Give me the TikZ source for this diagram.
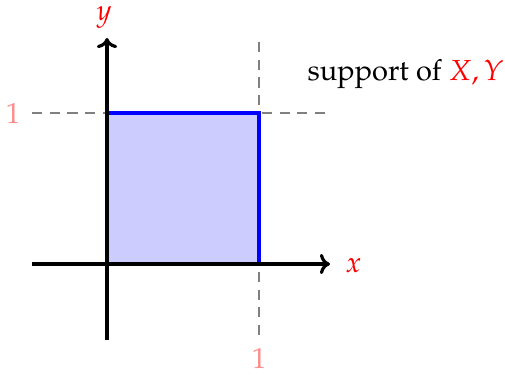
\documentclass[tikz,border=0pt]{standalone}
\usepackage[T1]{fontenc}
\usepackage{mathpazo}
\usetikzlibrary{arrows.meta}
\begin{document}
\begin{tikzpicture}[x=0.345pt,y=-0.345pt,
  axis/.style={line width=1.1pt,-{To[length=3.5pt,width=7pt]}},
  guide/.style={gray,line width=0.65pt,dash pattern=on 3.5pt off 2.6pt},
  lbl/.style={red},
  tick/.style={red!45},
  sq/.style={blue,line width=1.2pt,fill=blue!20}]
\useasboundingbox (0,0) rectangle (505,374);
\coordinate (O) at (107,264);
\coordinate (xs) at (32,264);
\coordinate (xe) at (330,264);
\coordinate (ys) at (107,340);
\coordinate (ye) at (107,38);
\coordinate (hl) at (32,113);
\coordinate (hr) at (330,113);
\coordinate (vt) at (259,42);
\coordinate (vb) at (259,340);
\draw[guide] (hl) -- (hr);
\draw[guide] (vt) -- (vb);
\draw[sq] (O) rectangle (259,113);
\draw[axis] (xs) -- (xe);
\draw[axis] (ys) -- (ye);
\node[lbl,anchor=west,inner sep=0pt] (xl) at (345,266) {$x$};
\node[lbl,anchor=south,inner sep=0pt] (yl) at (104,29) {$y$};
\node[tick,inner sep=0pt] (one1) at (13,113) {$1$};
\node[tick,inner sep=0pt] (one2) at (259,358) {$1$};
\node[anchor=west,inner sep=0pt] (sup) at (307,74) {support of \textcolor{red}{$X, Y$}};
\end{tikzpicture}
\end{document}
